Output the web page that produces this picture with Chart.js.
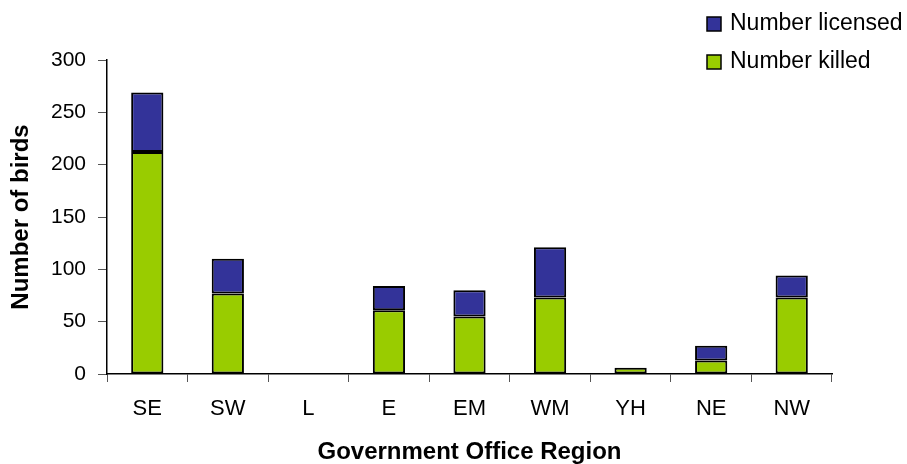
<!DOCTYPE html>
<html>
<head>
<meta charset="utf-8">
<script src="https://cdn.jsdelivr.net/npm/chart.js@4"></script>
<style>
  html, body { margin: 0; padding: 0; background: #fff; }
  #wrap { width: 907px; height: 464px; }
</style>
</head>
<body>
<div id="wrap"><canvas id="birdChart" width="907" height="464"></canvas></div>
<script>
const regions = ['SE', 'SW', 'L', 'E', 'EM', 'WM', 'YH', 'NE', 'NW'];
const numberLicensed = [269, 110, 0, 84, 80, 121, 6, 27, 94];
const numberKilled = [212, 77, 0, 61, 55, 73, 6, 13, 73];
const yTicks = [0, 50, 100, 150, 200, 250, 300];

const blue = '#333399';
const green = '#99CC00';
const font = 'Liberation Sans, Arial, sans-serif';

// licensed but not killed sits on top of the killed part
const licensedRest = numberLicensed.map((v, i) => v - numberKilled[i]);

const legendPlugin = {
  id: 'sideLegend',
  afterDraw(chart) {
    const ctx = chart.ctx;
    const items = [
      { label: 'Number licensed', color: blue, y: 24 },
      { label: 'Number killed', color: green, y: 62 }
    ];
    ctx.save();
    ctx.font = '23px ' + font;
    ctx.textBaseline = 'middle';
    items.forEach(it => {
      ctx.fillStyle = it.color;
      ctx.fillRect(707, it.y - 7, 14, 14);
      ctx.strokeStyle = '#000';
      ctx.lineWidth = 1.5;
      ctx.strokeRect(707, it.y - 7, 14, 14);
      ctx.fillStyle = '#000';
      ctx.fillText(it.label, 730, it.y);
    });
    ctx.restore();
  }
};

const ctx = document.getElementById('birdChart').getContext('2d');
const birdChart = new Chart(ctx, {
  type: 'bar',
  data: {
    labels: regions,
    datasets: [
      {
        label: 'Number killed',
        data: numberKilled,
        backgroundColor: green,
        borderColor: '#000',
        borderWidth: 2,
        borderSkipped: false,
        categoryPercentage: 1,
        barPercentage: 0.4
      },
      {
        label: 'Number licensed',
        data: licensedRest,
        backgroundColor: blue,
        borderColor: '#000',
        borderWidth: 2,
        borderSkipped: false,
        categoryPercentage: 1,
        barPercentage: 0.4
      }
    ]
  },
  options: {
    responsive: false,
    animation: false,
    layout: { padding: { top: 60, right: 75, left: 0, bottom: 0 } },
    plugins: {
      legend: { display: false },
      tooltip: { enabled: false }
    },
    scales: {
      x: {
        stacked: true,
        afterFit: s => { s.height = 90; },
        border: { color: '#000', width: 1.5 },
        grid: { drawOnChartArea: false, color: '#555', tickLength: 8, offset: true },
        ticks: { color: '#000', font: { family: font, size: 22 }, padding: 14 },
        title: {
          display: true,
          text: 'Government Office Region',
          color: '#000',
          font: { family: font, size: 24, weight: 'bold', lineHeight: 1 },
          padding: { top: 10, bottom: 0 }
        }
      },
      y: {
        stacked: true,
        min: 0,
        max: 300,
        afterFit: s => { s.width = 107; },
        afterBuildTicks: s => { s.ticks = yTicks.map(v => ({ value: v })); },
        border: { color: '#000', width: 1.5 },
        grid: { drawOnChartArea: false, color: '#555', tickLength: 9 },
        ticks: { color: '#000', font: { family: font, size: 21 }, padding: 12 },
        title: {
          display: true,
          text: 'Number of birds',
          color: '#000',
          font: { family: font, size: 24, weight: 'bold' },
          padding: { top: 7, bottom: 0 }
        }
      }
    }
  },
  plugins: [legendPlugin]
});
</script>
</body>
</html>
